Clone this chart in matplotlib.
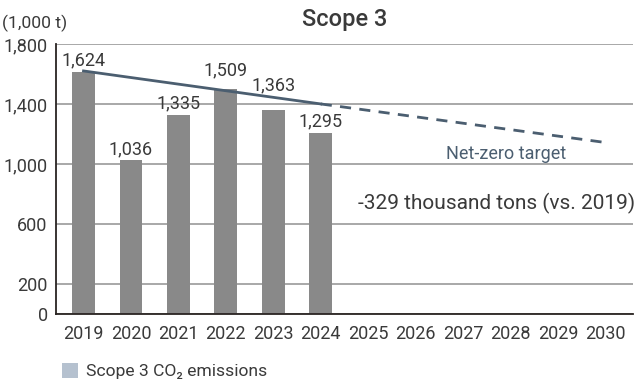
import matplotlib
matplotlib.use("Agg")
import matplotlib.pyplot as plt
from matplotlib.patches import Patch

plt.rcParams["font.family"] = ["Roboto", "DejaVu Sans"]

years = [2019, 2020, 2021, 2022, 2023, 2024, 2025, 2026, 2027, 2028, 2029, 2030]
bar_years = [2019, 2020, 2021, 2022, 2023, 2024]
bar_heights = [1614, 1027, 1327, 1500, 1360, 1207]
bar_labels = ["1,624", "1,036", "1,335", "1,509", "1,363", "1,295"]
target_solid_x = [2019, 2024]
target_solid_y = [1620, 1400]
target_dash_x = [2024, 2030]
target_dash_y = [1400, 1143]
yticks = [0, 200, 600, 1000, 1400, 1800]
ytick_labels = ["0", "200", "600", "1,000", "1,400", "1,800"]

txt = "#3a3a3a"
fig = plt.figure(figsize=(6.4, 3.82), dpi=100)
ax = fig.add_axes([0.0875, 0.178, 0.9015, 0.707])

ax.bar(bar_years, bar_heights, width=0.48, color="#898989", zorder=2)
ax.plot(target_solid_x, target_solid_y, color="#4b5e70", lw=2, zorder=3)
ax.plot(target_dash_x, target_dash_y, color="#4b5e70", lw=2,
        dashes=(4, 3), zorder=3)

# label offsets above each bar, in points
offs = [2, 1, 2, 7, 11, 2]
for x, h, lab, o in zip(bar_years, bar_heights, bar_labels, offs):
    ax.annotate(lab, (x, h), xytext=(0, o), textcoords="offset points",
                ha="center", va="bottom", fontsize=13, color=txt, zorder=4)

ax.text(2027.9, 1067, "Net-zero target", fontsize=13, color="#4b5e70",
        ha="center", va="center")
ax.text(2024.78, 740, "-329 thousand tons (vs. 2019)", fontsize=15,
        color=txt, ha="left", va="center")

ax.set_xlim(2018.42, 2030.58)
ax.set_ylim(0, 1800)
ax.set_xticks(years)
ax.set_yticks(yticks)
ax.set_yticklabels(ytick_labels)
ax.tick_params(length=0, labelsize=13, colors=txt)
ax.tick_params(axis="x", pad=8)
ax.tick_params(axis="y", pad=6)
ax.yaxis.grid(True, color="#9a9a9a", lw=1.2, zorder=0)
ax.set_axisbelow(True)
for s in ["top", "right"]:
    ax.spines[s].set_visible(False)
for s in ["left", "bottom"]:
    ax.spines[s].set_color("#2a2422")
    ax.spines[s].set_linewidth(1.3)

ax.set_title("Scope 3", fontsize=17, color=txt, pad=13, fontweight="medium")
fig.text(0.003, 0.94, "(1,000 t)", fontsize=12.6, color=txt,
         ha="left", va="center")

handle = Patch(facecolor="#b5c1cf", edgecolor="none")
fig.legend([handle], ["Scope 3 CO₂ emissions"], loc="center left",
           bbox_to_anchor=(0.072, 0.028), frameon=False, fontsize=12.6,
           handlelength=0.9, handleheight=0.9, handletextpad=0.5,
           labelcolor=txt)

fig.savefig("out.png", dpi=100)
